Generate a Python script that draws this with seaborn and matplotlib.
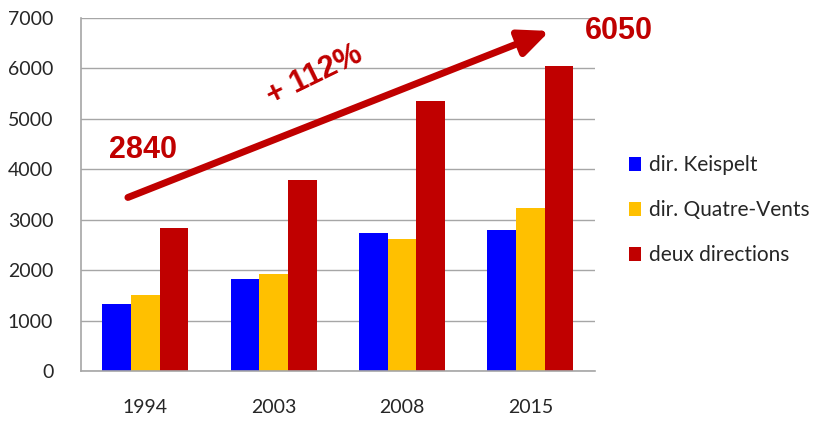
import matplotlib
matplotlib.use("Agg")
import matplotlib.pyplot as plt
import seaborn as sns
import pandas as pd

# Passenger counts per year and direction
years = ["1994", "2003", "2008", "2015"]
series_names = ["dir. Keispelt", "dir. Quatre-Vents", "deux directions"]
keispelt = [1320, 1830, 2740, 2800]
quatre_vents = [1500, 1930, 2610, 3230]
deux_directions = [2840, 3780, 5360, 6050]
growth_label = "+ 112%"
y_ticks = [0, 1000, 2000, 3000, 4000, 5000, 6000, 7000]

colors = ["#0000FF", "#FFC000", "#C00000"]
red = "#C00000"

rows = []
for name, vals in zip(series_names, [keispelt, quatre_vents, deux_directions]):
    for yr, v in zip(years, vals):
        rows.append({"year": yr, "direction": name, "value": v})
df = pd.DataFrame(rows)

sns.set_theme(style="white")
plt.rcParams["font.family"] = ["Lato", "DejaVu Sans"]

fig = plt.figure(figsize=(8.27, 4.25), dpi=100)
ax = fig.add_axes([0.098, 0.127, 0.621, 0.831])

sns.barplot(data=df, x="year", y="value", hue="direction", order=years,
            hue_order=series_names, palette=colors, width=0.67, gap=0,
            linewidth=0, saturation=1, errorbar=None, ax=ax)

ax.set_ylim(0, 7000)
ax.set_xlim(-0.5, 3.5)
ax.set_yticks(y_ticks)
ax.set_yticklabels([str(t) for t in y_ticks], fontsize=14, color="#262626")
ax.tick_params(axis="y", length=0, pad=20)
ax.tick_params(axis="x", length=0, pad=20, labelsize=14, labelcolor="#262626")
ax.set_xlabel("")
ax.set_ylabel("")
ax.yaxis.grid(True, color="#a6a6a6", linewidth=1)
ax.set_axisbelow(True)
for side in ["top", "right"]:
    ax.spines[side].set_visible(False)
for side in ["left", "bottom"]:
    ax.spines[side].set_color("#a6a6a6")
    ax.spines[side].set_linewidth(1.2)

# Growth arrow and annotations
ax.annotate("", xy=(3.15, 6740), xytext=(-0.135, 3440),
            arrowprops=dict(arrowstyle="-|>,head_length=0.9,head_width=0.4",
                            lw=5, color=red, mutation_scale=20,
                            shrinkA=0, shrinkB=0),
            annotation_clip=False)
ax.text(-0.02, 4380, str(deux_directions[0]), color=red, fontsize=22,
        fontweight="bold", family=["Liberation Sans"], ha="center", va="center")
ax.text(3.69, 6740, str(deux_directions[-1]), color=red, fontsize=22,
        fontweight="bold", family=["Liberation Sans"], ha="center", va="center",
        clip_on=False)
ax.text(1.32, 5870, growth_label, color=red, fontsize=22, fontweight="bold",
        family=["Liberation Sans"], rotation=26, ha="center", va="center")

leg = ax.legend(loc="center left", bbox_to_anchor=(1.03, 0.455), frameon=False,
                fontsize=15, handlelength=0.6, handleheight=0.6,
                handletextpad=0.35, labelspacing=1.2)
for t in leg.get_texts():
    t.set_color("#262626")

fig.savefig("out.png", dpi=100)
